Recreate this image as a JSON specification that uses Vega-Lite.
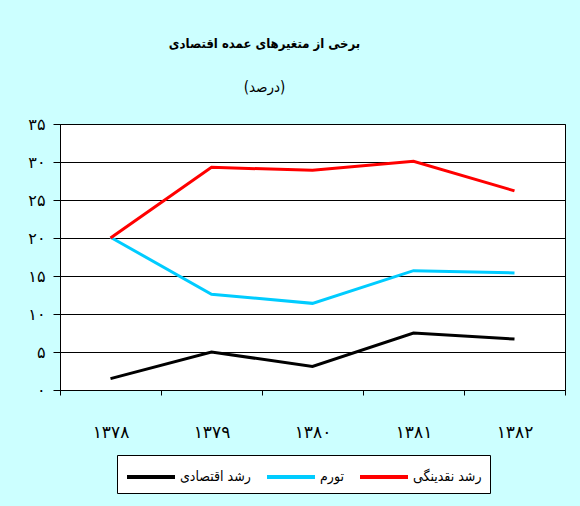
{
  "$schema": "https://vega.github.io/schema/vega-lite/v6.json",
  "width": 505,
  "height": 266,
  "autosize": {"type": "none"},
  "padding": {"left": 60, "top": 124, "right": 15, "bottom": 116},
  "background": "#CCFFFF",
  "title": {
    "text": "برخی از متغیرهای عمده اقتصادی",
    "subtitle": "(درصد)",
    "font": "DejaVu Sans Condensed",
    "fontSize": 13,
    "fontWeight": "bold",
    "subtitleFont": "DejaVu Sans Condensed",
    "subtitleFontSize": 15,
    "subtitleColor": "black",
    "subtitlePadding": 29,
    "color": "black",
    "anchor": "middle",
    "dx": -48,
    "offset": 21
  },
  "data": {
    "values": [
      {"year": "۱۳۷۸", "series": "رشد اقتصادی", "value": 1.5},
      {"year": "۱۳۷۹", "series": "رشد اقتصادی", "value": 5.0},
      {"year": "۱۳۸۰", "series": "رشد اقتصادی", "value": 3.1},
      {"year": "۱۳۸۱", "series": "رشد اقتصادی", "value": 7.5},
      {"year": "۱۳۸۲", "series": "رشد اقتصادی", "value": 6.7},
      {"year": "۱۳۷۸", "series": "تورم", "value": 20.1},
      {"year": "۱۳۷۹", "series": "تورم", "value": 12.6},
      {"year": "۱۳۸۰", "series": "تورم", "value": 11.4},
      {"year": "۱۳۸۱", "series": "تورم", "value": 15.7},
      {"year": "۱۳۸۲", "series": "تورم", "value": 15.4},
      {"year": "۱۳۷۸", "series": "رشد نقدینگی", "value": 20.0},
      {"year": "۱۳۷۹", "series": "رشد نقدینگی", "value": 29.3},
      {"year": "۱۳۸۰", "series": "رشد نقدینگی", "value": 28.9},
      {"year": "۱۳۸۱", "series": "رشد نقدینگی", "value": 30.1},
      {"year": "۱۳۸۲", "series": "رشد نقدینگی", "value": 26.2}
    ]
  },
  "mark": {"type": "line", "strokeWidth": 3},
  "encoding": {
    "x": {
      "field": "year",
      "type": "ordinal",
      "bandPosition": 0.5,
      "scale": {"type": "band", "paddingInner": 0, "paddingOuter": 0},
      "axis": {
        "title": null,
        "labelAngle": 0,
        "labelFont": "DejaVu Sans",
        "labelFontSize": 17,
        "labelColor": "black",
        "labelPadding": 29,
        "tickBand": "extent",
        "tickSize": 5,
        "tickColor": "black",
        "domainColor": "black",
        "grid": false
      }
    },
    "y": {
      "field": "value",
      "type": "quantitative",
      "scale": {"domain": [0, 35], "nice": false},
      "axis": {
        "title": null,
        "values": [0, 5, 10, 15, 20, 25, 30, 35],
        "labelExpr": "replace(replace(replace(replace(replace(replace(datum.label,'0','۰'),'1','۱'),'2','۲'),'3','۳'),'5','۵'),'4','۴')",
        "labelFont": "DejaVu Sans",
        "labelFontSize": 16,
        "labelColor": "black",
        "labelPadding": 8,
        "tickSize": 7,
        "tickColor": "black",
        "domainColor": "black",
        "gridColor": "black",
        "gridOpacity": 1,
        "gridWidth": 1
      }
    },
    "color": {
      "field": "series",
      "type": "nominal",
      "scale": {
        "domain": ["رشد اقتصادی", "تورم", "رشد نقدینگی"],
        "range": ["#000000", "#00CCFF", "#FF0000"]
      },
      "legend": {
        "title": null,
        "orient": "none",
        "legendX": 57,
        "legendY": 331,
        "direction": "horizontal",
        "symbolType": "M-1,0H3",
        "symbolSize": 576,
        "symbolStrokeWidth": 4,
        "labelFont": "DejaVu Sans Condensed",
        "labelFontSize": 14,
        "labelColor": "black",
        "labelOffset": 27,
        "columnPadding": 8,
        "padding": 8,
        "strokeColor": "black",
        "fillColor": "white"
      }
    }
  },
  "config": {
    "view": {"fill": "white", "stroke": "black", "strokeWidth": 1}
  }
}
